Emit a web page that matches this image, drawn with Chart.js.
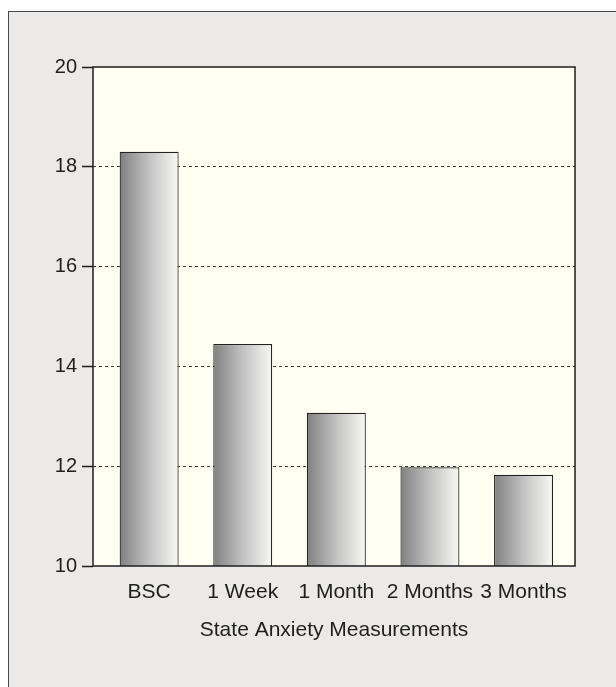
<!DOCTYPE html>
<html>
<head>
<meta charset="utf-8">
<script src="https://cdn.jsdelivr.net/npm/chart.js@4/dist/chart.umd.min.js"></script>
<style>
  html, body { margin: 0; padding: 0; background: #ffffff; overflow: hidden; }
  .frame {
    position: absolute; left: 8px; top: 11px;
    width: 700px; height: 700px;
    background: #ebeae8; border: 1px solid #4a4a4a;
  }
  .chart-wrap { position: absolute; left: 0; top: 0; width: 616px; height: 687px; }
</style>
</head>
<body>
<div class="frame"></div>
<div class="chart-wrap"><canvas id="anxietyChart" width="616" height="687"></canvas></div>
<script>
// chart data
const categories = ['BSC', '1 Week', '1 Month', '2 Months', '3 Months'];
const anxietyScores = [18.3, 14.45, 13.07, 11.98, 11.83];
const yMin = 10;
const yMax = 20;
const yStep = 2;
const axisTitle = 'State Anxiety Measurements';

const barPct = 0.63;
const fontFamily = '"Liberation Sans", Arial, Helvetica, sans-serif';

function barGradient(context) {
  const chart = context.chart;
  const xScale = chart.scales.x;
  if (!xScale || context.type !== 'data') return '#bbbbbb';
  const step = xScale.getPixelForValue(1) - xScale.getPixelForValue(0);
  const cx = xScale.getPixelForValue(context.dataIndex);
  const half = step * barPct / 2;
  if (!Number.isFinite(cx) || !Number.isFinite(half)) return '#bbbbbb';
  const g = chart.ctx.createLinearGradient(cx - half, 0, cx + half, 0);
  g.addColorStop(0, '#808080');
  g.addColorStop(0.5, '#c2c2c2');
  g.addColorStop(1, '#f8f8f3');
  return g;
}

// cream plot area + black frame around it
const plotFrame = {
  id: 'plotFrame',
  beforeDraw(chart) {
    const { ctx, chartArea: a } = chart;
    ctx.save();
    ctx.fillStyle = '#fffff2';
    ctx.fillRect(a.left, a.top, a.right - a.left, a.bottom - a.top);
    ctx.restore();
  },
  afterDatasetsDraw(chart) {
    const { ctx, chartArea: a } = chart;
    ctx.save();
    ctx.strokeStyle = '#1e1e1e';
    ctx.lineWidth = 1.5;
    ctx.strokeRect(a.left, a.top, a.right - a.left, a.bottom - a.top);
    ctx.restore();
  }
};

const ctx = document.getElementById('anxietyChart').getContext('2d');
new Chart(ctx, {
  type: 'bar',
  data: {
    datasets: [{
      label: axisTitle,
      data: anxietyScores.map((v, i) => ({ x: i, y: v })),
      backgroundColor: barGradient,
      borderColor: '#222222',
      borderWidth: 1.2,
      borderSkipped: false,
      barPercentage: barPct,
      categoryPercentage: 1
    }]
  },
  options: {
    responsive: false,
    animation: false,
    layout: { padding: { left: 0, top: 67, right: 41, bottom: 0 } },
    plugins: {
      legend: { display: false },
      tooltip: { enabled: false }
    },
    scales: {
      x: {
        type: 'linear',
        offset: false,
        min: -0.6,
        max: 4.55,
        afterBuildTicks: scale => {
          scale.ticks = categories.map((c, i) => ({ value: i }));
        },
        afterFit: scale => { scale.height = 121; },
        grid: { display: false, drawTicks: false },
        border: { display: false },
        ticks: {
          autoSkip: false,
          maxRotation: 0,
          padding: 14,
          color: '#1e1e1e',
          font: { family: fontFamily, size: 21 },
          callback: value => categories[value]
        },
        title: {
          display: true,
          text: axisTitle,
          color: '#1e1e1e',
          font: { family: fontFamily, size: 21 },
          padding: { top: 0, bottom: 44 }
        }
      },
      y: {
        min: yMin,
        max: yMax,
        afterFit: scale => { scale.width = 93; },
        ticks: {
          stepSize: yStep,
          padding: 5,
          color: '#1e1e1e',
          font: { family: fontFamily, size: 20 }
        },
        grid: {
          color: c => (c.tick && (c.tick.value === yMin || c.tick.value === yMax)) ? 'rgba(0,0,0,0)' : '#3a3a3a',
          lineWidth: 1,
          tickLength: 11,
          tickColor: '#1e1e1e',
          tickWidth: 1.5,
          tickBorderDash: [20, 0]
        },
        border: { display: false, dash: [3, 3] }
      }
    }
  },
  plugins: [plotFrame]
});
</script>
</body>
</html>
